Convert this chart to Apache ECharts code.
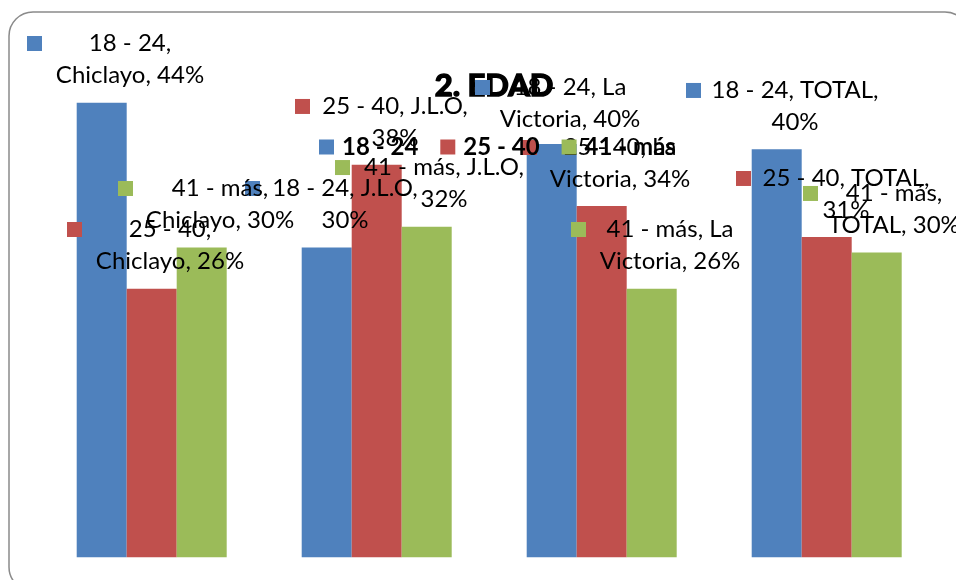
<!DOCTYPE html>
<html><head><meta charset="utf-8">
<script src="https://cdn.jsdelivr.net/npm/echarts@6/dist/echarts.min.js"></script>
<style>html,body{margin:0;padding:0;background:#fff}#c{width:956px;height:580px}</style>
</head><body><div id="c"></div>
<script>
// ---- data ----
const categories = ['Chiclayo', 'J.L.O', 'La Victoria', 'TOTAL'];
const seriesNames = ['18 - 24', '25 - 40', '41 - más'];
const values1824 = [44, 30, 40, 39.5];
const values2540 = [26, 38, 34, 31];
const values41mas = [30, 32, 26, 29.5];
const titleText = '2. EDAD';

const seriesValues = [values1824, values2540, values41mas];
const colors = ['#4F81BD', '#C0504D', '#9BBB59'];

// label layout: [dx, dy, text box width] relative to the bar's top centre
const labelLayout = [
  [[-74.7, -75.3, 176], [-81.7, -74.9, 170], [-76.7, -72.6, 160], [-90.7, -74.8, 188]],
  [[-84.7, -75.2, 176], [-81.7, -74.3, 170], [-79.7, -74.6, 166], [-90.7, -74.6, 190]],
  [[-83.7, -74.9, 174], [-91.7, -75.2, 188], [-80.7, -75.2, 168], [-73.7, -75.1, 152]]
];
const FONT = 'Lato';
const FS = 24;
const LH = 32;

const mctx = document.createElement('canvas').getContext('2d');
mctx.font = FS + 'px ' + FONT;
function wrap(text, maxW) {
  const words = text.split(' ');
  const lines = [];
  let cur = '';
  for (const w of words) {
    const t = cur ? cur + ' ' + w : w;
    if (cur && mctx.measureText(t).width > maxW) { lines.push(cur); cur = w; }
    else cur = t;
  }
  if (cur) lines.push(cur);
  return lines;
}

function makeLabel(s, c) {
  const [dx, dy, W] = labelLayout[s][c];
  const v = seriesValues[s][c];
  const text = seriesNames[s] + ', ' + categories[c] + ', ' + Math.round(v) + '%';
  const lines = wrap(text, W - 4);
  const str = lines.map((l, i) => (i === 0 ? '{m|}' : '{p|}') + '{t|' + l + '}').join('\n');
  return {
    show: true, position: 'top', distance: 0, align: 'left', verticalAlign: 'top',
    offset: [dx, dy],
    formatter: str,
    rich: {
      m: { width: 15, height: 15, backgroundColor: colors[s] },
      p: { width: 15, height: 15 },
      t: { width: W, align: 'center', fontSize: FS, fontFamily: FONT, color: '#000', lineHeight: LH }
    }
  };
}

const chart = echarts.init(document.getElementById('c'), null, { renderer: 'canvas' });
chart.setOption({
  animation: false,
  backgroundColor: '#fff',
  grid: { left: 39.2, right: 16.8, top: 40.8, bottom: 22.7 },
  xAxis: { type: 'category', data: categories, show: false },
  yAxis: { type: 'value', min: 0, max: 50, show: false },
  legend: {
    data: seriesNames, left: 314, top: 130, itemWidth: 15, itemHeight: 15, itemGap: 22, icon: 'rect',
    textStyle: { fontFamily: FONT, fontSize: 24, fontWeight: 'bold', color: '#000', padding: [0, 0, 0, 3], lineHeight: 24 }
  },
  graphic: [
    { type: 'rect', z: 0, silent: true, shape: { x: 9, y: 12, width: 960, height: 579, r: 24 },
      style: { fill: 'none', stroke: '#8a8a8a', lineWidth: 1.5 } },
    { type: 'text', z: 1, x: 494, y: 86, silent: true,
      style: { text: titleText, align: 'center', verticalAlign: 'middle', fontFamily: FONT, fontSize: 31,
               fontWeight: 'bold', fill: '#000', stroke: '#000', lineWidth: 1.5 } }
  ],
  series: seriesValues.map((vals, s) => ({
    name: seriesNames[s], type: 'bar', barWidth: 50, barGap: '0%',
    itemStyle: { color: colors[s] },
    emphasis: { disabled: true },
    data: vals.map((v, c) => ({ value: v, label: makeLabel(s, c) }))
  }))
});
</script></body></html>
